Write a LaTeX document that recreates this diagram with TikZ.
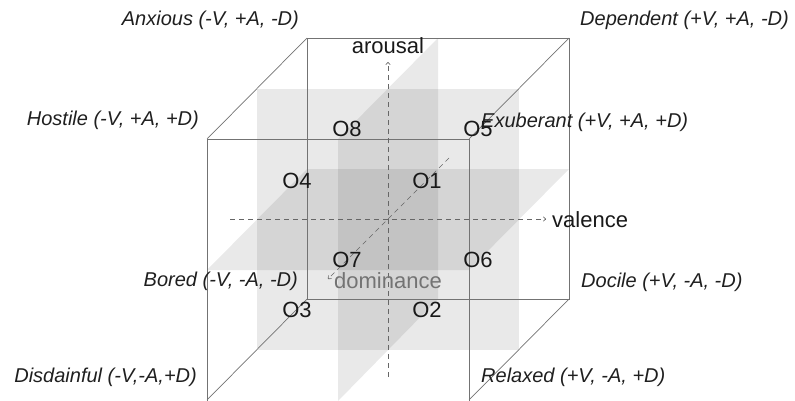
\documentclass[tikz,border=0pt]{standalone}
\usepackage{fontspec}
\setmainfont{Liberation Sans}
\usetikzlibrary{arrows.meta}
\begin{document}
\begin{tikzpicture}[x=1pt,y=-1pt,
  edge/.style={draw=black!55, line width=0.7pt},
  plane/.style={fill=black, fill opacity=0.085},
  axis/.style={draw=black!60, dash pattern=on 5pt off 4pt, line width=0.6pt, -{To[length=3pt,width=5pt]}},
  corner/.style={font=\fontsize{20}{24}\selectfont\itshape, text=black!88, inner sep=0pt},
  olabel/.style={font=\fontsize{22}{26}\selectfont, text=black!90, inner sep=0pt},
  axlabel/.style={font=\fontsize{22}{26}\selectfont, text=black!90, inner sep=0pt},
]
\useasboundingbox (0,0) rectangle (795,401);
% planes
\fill[plane] (257,89) rectangle (519,350);
\fill[plane] (207,270) -- (469,270) -- (569,169) -- (307,169) -- cycle;
\fill[plane] (338,139) -- (438,38) -- (438,299) -- (338,401) -- cycle;
% cube
\draw[edge] (307,38) rectangle (569,299);
\draw[edge] (207,401) -- (207,139) -- (469,139) -- (469,401);
\draw[edge] (207,139) -- (307,38);
\draw[edge] (469,139) -- (569,38);
\draw[edge] (469,400) -- (569,299);
\draw[edge] (207,400) -- (307,299);
% axes
\coordinate (aS) at (388,377);
\coordinate (aE) at (388,62);
\coordinate (vS) at (230,219);
\coordinate (vE) at (546,219);
\coordinate (dS) at (449,158);
\coordinate (dE) at (328,279);
\draw[axis] (aS) -- (aE);
\draw[axis] (vS) -- (vE);
\draw[axis] (dS) -- (dE);
\node[axlabel] (arousal) at (388,46) {arousal};
\node[axlabel, anchor=west] (valence) at (552,220) {valence};
\node[axlabel, anchor=west, text=black!55] (dominance) at (334,281) {dominance};
% O labels
\node[olabel] (o8) at (347,129) {O8};
\node[olabel] (o5) at (478,129) {O5};
\node[olabel] (o4) at (297,181) {O4};
\node[olabel] (o1) at (427,181) {O1};
\node[olabel] (o7) at (347,260) {O7};
\node[olabel] (o6) at (478,260) {O6};
\node[olabel] (o3) at (297,310) {O3};
\node[olabel] (o2) at (427,310) {O2};
% corner labels
\node[corner, anchor=east] (anx) at (299,20) {Anxious (-V, +A, -D)};
\node[corner, anchor=west] (dep) at (580,20) {Dependent (+V, +A, -D)};
\node[corner, anchor=east] (hos) at (199,120) {Hostile (-V, +A, +D)};
\node[corner, anchor=west] (exu) at (481,122) {Exuberant (+V, +A, +D)};
\node[corner, anchor=east] (bor) at (298,281) {Bored (-V, -A, -D)};
\node[corner, anchor=west] (doc) at (581,282) {Docile (+V, -A, -D)};
\node[corner, anchor=east] (dis) at (197,377) {Disdainful (-V,-A,+D)};
\node[corner, anchor=west] (rel) at (481,377) {Relaxed (+V, -A, +D)};
\end{tikzpicture}
\end{document}
